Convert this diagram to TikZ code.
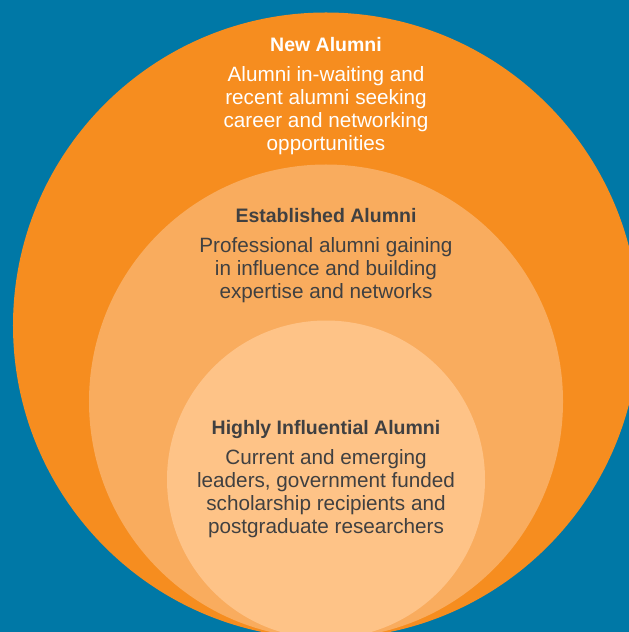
\documentclass[tikz,border=0pt]{standalone}
\usepackage{fontspec}
\setmainfont{Liberation Sans}
\definecolor{bgblue}{HTML}{0078A6}
\definecolor{outerorange}{HTML}{F68D1F}
\definecolor{midorange}{HTML}{F9AC5E}
\definecolor{innerorange}{HTML}{FEC387}
\definecolor{darktext}{HTML}{404041}
\begin{document}
\begin{tikzpicture}[x=1bp,y=-1bp,
  title/.style={anchor=base,inner sep=0pt,align=center,font=\fontsize{19.5bp}{23bp}\selectfont\bfseries},
  body/.style={anchor=base,inner sep=0pt,align=center,font=\fontsize{20.7bp}{23bp}\selectfont},
  ring/.style={circle,inner sep=0pt,minimum size=#1}]
\useasboundingbox (0,0) rectangle (629,632);
\begin{scope}
\clip (0,0) rectangle (629,632);
\fill[bgblue] (0,0) rectangle (629,632);
\node[ring=626bp,fill=outerorange] (outer) at (326,325.5) {};
\node[ring=474bp,fill=midorange] (middle) at (326,401.5) {};
\node[ring=318bp,fill=innerorange] (inner) at (326,479.5) {};
\end{scope}
\node[title,text=white] (t1) at (326,52) {New Alumni};
\node[body,text=white] (b1) at (326,151) {Alumni in-waiting and\\recent alumni seeking\\career and networking\\opportunities};
\node[title,text=darktext] (t2) at (326,222) {Established Alumni};
\node[body,text=darktext] (b2) at (326,298) {Professional alumni gaining\\in influence and building\\expertise and networks};
\node[title,text=darktext] (t3) at (326,434) {Highly Influential Alumni};
\node[body,text=darktext] (b3) at (326,533) {Current and emerging\\leaders, government funded\\scholarship recipients and\\postgraduate researchers};
\end{tikzpicture}
\end{document}
